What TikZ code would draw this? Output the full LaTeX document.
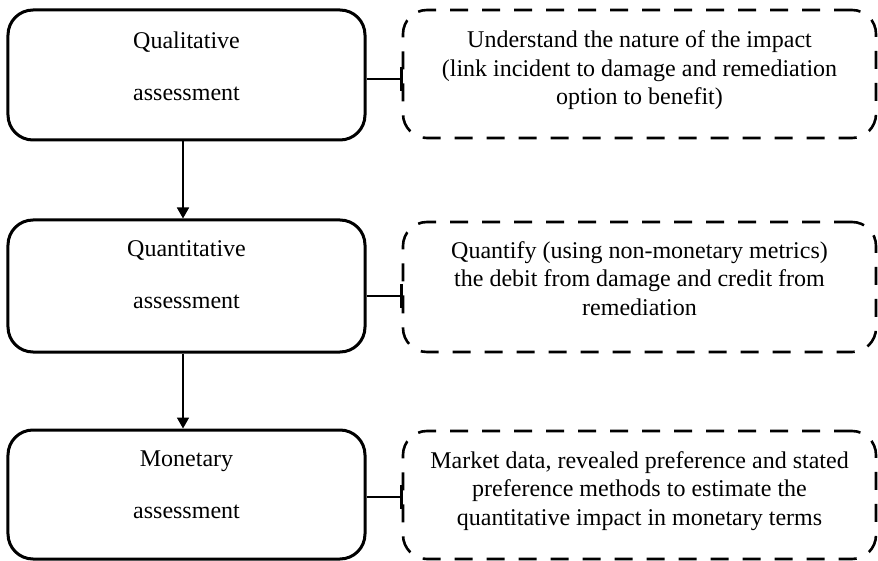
\documentclass[tikz,border=0pt]{standalone}
\usepackage{fontspec}
\setmainfont{Liberation Serif}
\usetikzlibrary{arrows.meta}
\begin{document}
\begin{tikzpicture}[x=1bp,y=-1bp,
  stagebox/.style={draw=black, line width=3bp, rounded corners=25bp,
    minimum width=357bp, inner sep=0pt},
  notebox/.style={draw=black, line width=2.6bp, rounded corners=24bp,
    dash pattern=on 18bp off 14bp, minimum width=473bp, inner sep=0pt, outer sep=0pt},
  stagetext/.style={align=center, font=\fontsize{24bp}{52bp}\selectfont, inner sep=0pt},
  notetext/.style={align=center, font=\fontsize{24bp}{28.5bp}\selectfont, inner sep=0pt},
  flow/.style={line width=1.8bp, -{Triangle[width=12bp,length=11bp]}},
  link/.style={line width=1.7bp, -{Bar[width=24bp, line width'=2.6bp]}}
]
\useasboundingbox (0,0) rectangle (878,561);

% assessment stages
\node[stagebox, minimum height=130bp] (qual) at (186.5,75) {};
\node[stagebox, minimum height=132bp] (quan) at (186.5,286) {};
\node[stagebox, minimum height=129bp] (mone) at (186.5,494.5) {};

\node[stagetext] (qualtxt) at (186.5,66.5) {Qualitative\\assessment};
\node[stagetext] (quantxt) at (186.5,275) {Quantitative\\assessment};
\node[stagetext] (monetxt) at (186.5,485) {Monetary\\assessment};

% explanatory notes
\node[notebox, minimum height=128bp] (qualnote) at (639.5,74) {};
\node[notebox, minimum height=130bp] (quannote) at (639.5,287) {};
\node[notebox, minimum height=128bp] (monenote) at (639.5,495) {};

\node[notetext] (qualnotetxt) at (639.5,70.4)
  {Understand the nature of the impact\\(link incident to damage and remediation\\option to benefit)};
\node[notetext] (quannotetxt) at (639.5,278.3)
  {Quantify (using non-monetary metrics)\\the debit from damage and credit from\\remediation};
\node[notetext] (monenotetxt) at (639.5,491)
  {Market data, revealed preference and stated\\preference methods to estimate the\\quantitative impact in monetary terms};

% flow between stages
\draw[flow] ([xshift=-3.5bp]qual.south) -- ([xshift=-3.5bp]quan.north);
\draw[flow] ([xshift=-3.5bp]quan.south) -- ([xshift=-3.5bp]mone.north);

% stage-to-note links
\coordinate (l1) at ([yshift=-4bp]qual.east);
\coordinate (l2) at ([yshift=-10bp]quan.east);
\coordinate (l3) at ([yshift=-2.5bp]mone.east);
\draw[link] (l1) -- (l1 -| qualnote.west);
\draw[link] (l2) -- (l2 -| quannote.west);
\draw[link] (l3) -- (l3 -| monenote.west);
\end{tikzpicture}
\end{document}
